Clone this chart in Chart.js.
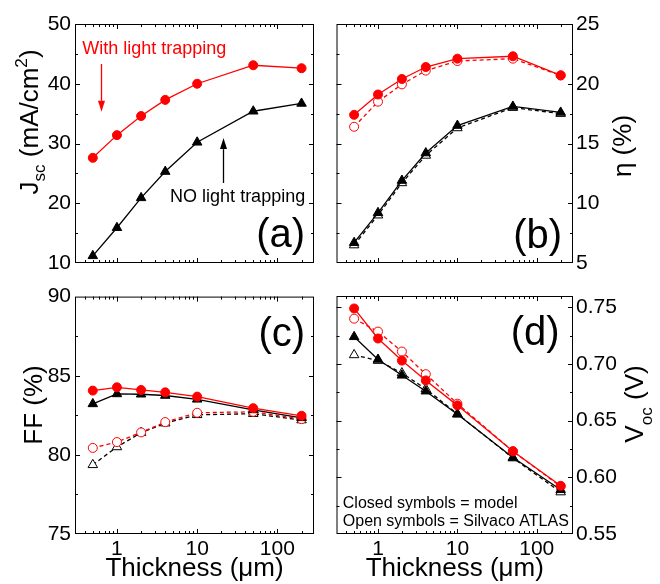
<!DOCTYPE html>
<html><head><meta charset="utf-8">
<script src="https://cdn.jsdelivr.net/npm/chart.js@4/dist/chart.umd.min.js"></script>
<style>
html,body{margin:0;padding:0;background:#fff;}
#wrap{position:relative;width:660px;height:584px;overflow:hidden;background:#fff;}
.p{position:absolute;}
</style></head><body>
<div id="wrap">
<div class="p" style="left:0;top:0;width:330px;height:280px"><canvas id="ca"></canvas></div>
<div class="p" style="left:330px;top:0;width:330px;height:280px"><canvas id="cb"></canvas></div>
<div class="p" style="left:0;top:280px;width:330px;height:304px"><canvas id="cc"></canvas></div>
<div class="p" style="left:330px;top:280px;width:330px;height:304px"><canvas id="cd"></canvas></div>
</div>
<script>
// ---------------- data ----------------
const thickness = [0.5, 1, 2, 4, 10, 50, 200];

const jscWith = [27.6, 31.4, 34.6, 37.3, 40.0, 43.1, 42.6];
const jscNo   = [11.2, 15.9, 20.9, 25.3, 30.2, 35.4, 36.7];

const effWithModel = [17.4, 19.1, 20.4, 21.4, 22.1, 22.3, 20.7];
const effWithAtlas = [16.4, 18.5, 19.95, 21.1, 21.9, 22.1, 20.7];
const effNoModel   = [6.7, 9.2, 11.9, 14.2, 16.5, 18.1, 17.6];
const effNoAtlas   = [6.5, 9.0, 11.7, 14.0, 16.3, 18.0, 17.5];

const ffWithModel = [84.06, 84.27, 84.1, 83.95, 83.68, 82.95, 82.47];
const ffNoModel   = [83.22, 83.85, 83.83, 83.75, 83.51, 82.84, 82.34];
const ffWithAtlas = [80.44, 80.81, 81.42, 82.07, 82.66, 82.72, 82.26];
const ffNoAtlas   = [79.37, 80.5, 81.4, 82.0, 82.53, 82.6, 82.2];

const vocWithModel = [0.749, 0.7225, 0.703, 0.6855, 0.6635, 0.623, 0.5925];
const vocWithAtlas = [0.740, 0.7286, 0.711, 0.691, 0.665, 0.623, 0.592];
const vocNoModel   = [0.724, 0.704, 0.690, 0.676, 0.6556, 0.6175, 0.589];
const vocNoAtlas   = [0.708, 0.703, 0.692, 0.678, 0.656, 0.617, 0.587];

const xTicks = [1, 10, 100];
const xTickLabels = ['1', '10', '100'];
const xMinorTicks = [0.4,0.5,0.6,0.7,0.8,0.9,2,3,4,5,6,7,8,9,20,30,40,50,60,70,80,90,200];
const jscTicks = [10, 20, 30, 40, 50];
const jscTickLabels = ['10', '20', '30', '40', '50'];
const effTicks = [5, 10, 15, 20, 25];
const effTickLabels = ['5', '10', '15', '20', '25'];
const ffTicks = [75, 80, 85, 90];
const ffTickLabels = ['75', '80', '85', '90'];
const vocTicks = [0.55, 0.60, 0.65, 0.70, 0.75];
const vocTickLabels = ['0.55', '0.60', '0.65', '0.70', '0.75'];

// ---------------- styling ----------------
const FAM = '"Liberation Sans", Arial, Helvetica, sans-serif';
const RED = '#ff0000';
const BLK = '#000000';
const TICK_FONT = 21;

function pts(arr){ return thickness.map((t,i)=>({x:t, y:arr[i]})); }
function ds(arr, kind, color, open){
  return {
    data: pts(arr),
    borderColor: color,
    backgroundColor: open ? '#ffffff' : color,
    pointBackgroundColor: open ? '#ffffff' : color,
    pointBorderColor: color,
    pointBorderWidth: 1,
    pointStyle: kind === 'tri' ? 'triangle' : 'circle',
    pointRadius: kind === 'tri' ? 5.5 : 4.5,
    borderWidth: 1.3,
    borderDash: open ? [4, 3] : [],
    tension: 0,
    fill: false,
    clip: false
  };
}
function mids(arr){ const m=[]; for(let i=0;i<arr.length-1;i++) m.push((arr[i]+arr[i+1])/2); return m; }

function framePlugin(yT){
  return {
    id:'frame',
    afterDraw(chart){
      const {ctx, chartArea:{left,top,right,bottom}, scales:{x,y}} = chart;
      ctx.save();
      ctx.strokeStyle = '#000'; ctx.lineWidth = 1;
      ctx.strokeRect(left+0.5, top+0.5, right-left-1, bottom-top-1);
      ctx.beginPath();
      const xt = (v,len)=>{ const p=Math.round(x.getPixelForValue(v))+0.5; ctx.moveTo(p,bottom); ctx.lineTo(p,bottom-len); ctx.moveTo(p,top); ctx.lineTo(p,top+len); };
      const yt = (v,len)=>{ const p=Math.round(y.getPixelForValue(v))+0.5; ctx.moveTo(left,p); ctx.lineTo(left+len,p); ctx.moveTo(right,p); ctx.lineTo(right-len,p); };
      xTicks.forEach(v=>xt(v,5));
      xMinorTicks.forEach(v=>xt(v,3));
      yT.forEach(v=>{ if(v>y.min && v<y.max) yt(v,5); });
      mids(yT).forEach(v=>yt(v,3));
      ctx.stroke();
      ctx.restore();
    }
  };
}

function annotPlugin(spec){
  return {
    id:'annot',
    afterDraw(chart){
      const {ctx, scales:{x,y}} = chart;
      (spec.texts||[]).forEach(t=>{
        ctx.save();
        ctx.font = `${t.size}px ${FAM}`;
        ctx.fillStyle = t.color || '#000';
        ctx.textAlign = t.align || 'left';
        ctx.textBaseline = 'alphabetic';
        ctx.fillText(t.text, x.getPixelForValue(t.x), y.getPixelForValue(t.y));
        ctx.restore();
      });
      (spec.arrows||[]).forEach(a=>{
        const px = Math.round(x.getPixelForValue(a.x))+0.5;
        const y1 = y.getPixelForValue(a.y1), y2 = y.getPixelForValue(a.y2);
        const dir = Math.sign(y2-y1);
        const hl = 11, hw = 3.5;
        ctx.save();
        ctx.strokeStyle = a.color; ctx.fillStyle = a.color; ctx.lineWidth = 1.3;
        ctx.beginPath(); ctx.moveTo(px,y1); ctx.lineTo(px,y2-dir*hl); ctx.stroke();
        ctx.beginPath(); ctx.moveTo(px,y2); ctx.lineTo(px-hw,y2-dir*hl); ctx.lineTo(px+hw,y2-dir*hl); ctx.closePath(); ctx.fill();
        ctx.restore();
      });
      if(spec.title){
        const o = spec.title, base = o.size;
        ctx.save();
        ctx.fillStyle = '#000'; ctx.textBaseline = 'alphabetic'; ctx.textAlign = 'left';
        const seg = o.parts.map(p=>{ const sz = p.s ? base*0.66 : base; ctx.font = `${sz}px ${FAM}`; return {t:p.t, s:p.s, sz, w:ctx.measureText(p.t).width}; });
        const total = seg.reduce((a,s)=>a+s.w,0);
        ctx.translate(o.x, o.y);
        ctx.rotate(-Math.PI/2);
        let u = -total/2;
        seg.forEach(s=>{
          ctx.font = `${s.sz}px ${FAM}`;
          const v = s.s==='sub' ? base*o.subShift : (s.s==='sup' ? -base*0.4 : 0);
          ctx.fillText(s.t, u, v);
          u += s.w;
        });
        ctx.restore();
      }
    }
  };
}

function makeChart(id, o){
  const el = document.getElementById(id);
  return new Chart(el, {
    type:'line',
    data:{ datasets:o.datasets },
    options:{
      responsive:true, maintainAspectRatio:false, animation:false, devicePixelRatio:1,
      layout:{ padding:o.padding },
      plugins:{ legend:{display:false}, tooltip:{enabled:false} },
      scales:{
        x:{
          type:'logarithmic', min:0.32, max:286, display:o.showX,
          afterBuildTicks:s=>{ s.ticks = xTicks.map(v=>({value:v})); },
          afterFit:s=>{ s.height = o.xH || 0; },
          grid:{display:false, drawTicks:false}, border:{display:false},
          ticks:{ display:o.showX, autoSkip:false, maxRotation:0, padding:3, color:'#000',
                  font:{family:FAM, size:TICK_FONT}, callback:(v,i)=>xTickLabels[i] },
          title:{ display:o.showX, text:'Thickness (μm)', color:'#000', padding:{top:0,bottom:0},
                  font:{family:FAM, size:26} }
        },
        y:{
          type:'linear', position:o.yPos, min:o.yMin, max:o.yMax,
          afterBuildTicks:s=>{ s.ticks = o.yTicks.map(v=>({value:v})); },
          afterFit:s=>{ s.width = o.yW; },
          grid:{display:false, drawTicks:false}, border:{display:false},
          ticks:{ padding:o.yPos==='left'?4:3, color:'#000', font:{family:FAM, size:TICK_FONT},
                  callback:(v,i)=>o.yLabels[i] }
        }
      }
    },
    plugins:[framePlugin(o.yTicks), annotPlugin(o.annot)]
  });
}

// (a) Jsc
makeChart('ca', {
  datasets:[ ds(jscWith,'circ',RED,false), ds(jscNo,'tri',BLK,false) ],
  padding:{left:0, right:16, top:24, bottom:17},
  showX:false, yPos:'left', yW:75, yMin:10, yMax:50, yTicks:jscTicks, yLabels:jscTickLabels,
  annot:{
    texts:[
      {text:'With light trapping', x:0.37, y:45.0, size:18, color:RED, align:'left'},
      {text:'NO light trapping', x:222, y:20.2, size:18, color:BLK, align:'right'},
      {text:'(a)', x:222, y:12.7, size:40, color:BLK, align:'right'}
    ],
    arrows:[
      {x:0.634, y1:43.3, y2:35.3, color:RED},
      {x:20.8, y1:23.4, y2:30.9, color:BLK}
    ],
    title:{x:37.5, y:122, size:26, subShift:0.3,
      parts:[{t:'J'},{t:'sc',s:'sub'},{t:' (mA/cm'},{t:'2',s:'sup'},{t:')'}]}
  }
});

// (b) efficiency
makeChart('cb', {
  datasets:[ ds(effWithModel,'circ',RED,false), ds(effNoModel,'tri',BLK,false),
             ds(effWithAtlas,'circ',RED,true), ds(effNoAtlas,'tri',BLK,true) ],
  padding:{left:4, right:0, top:24, bottom:17},
  showX:false, yPos:'right', yW:87, yMin:5, yMax:25, yTicks:effTicks, yLabels:effTickLabels,
  annot:{
    texts:[ {text:'(b)', x:209, y:6.23, size:40, color:BLK, align:'right'} ],
    title:{x:301, y:146, size:26, subShift:0.3, parts:[{t:'η (%)'}]}
  }
});

// (c) FF
makeChart('cc', {
  datasets:[ ds(ffWithModel,'circ',RED,false), ds(ffNoModel,'tri',BLK,false),
             ds(ffWithAtlas,'circ',RED,true), ds(ffNoAtlas,'tri',BLK,true) ],
  padding:{left:0, right:16, top:16, bottom:0},
  showX:true, xH:50, yPos:'left', yW:75, yMin:75, yMax:90, yTicks:ffTicks, yLabels:ffTickLabels,
  annot:{
    texts:[ {text:'(c)', x:222, y:86.9, size:40, color:BLK, align:'right'} ],
    title:{x:41.5, y:125, size:26, subShift:0.3, parts:[{t:'FF (%)'}]}
  }
});

// (d) Voc
makeChart('cd', {
  datasets:[ ds(vocWithModel,'circ',RED,false), ds(vocNoModel,'tri',BLK,false),
             ds(vocWithAtlas,'circ',RED,true), ds(vocNoAtlas,'tri',BLK,true) ],
  padding:{left:4, right:0, top:16, bottom:0},
  showX:true, xH:50, yPos:'right', yW:87, yMin:0.55, yMax:0.76, yTicks:vocTicks, yLabels:vocTickLabels,
  annot:{
    texts:[
      {text:'(d)', x:194, y:0.7167, size:40, color:BLK, align:'right'},
      {text:'Closed symbols = model', x:0.36, y:0.573, size:16, color:BLK, align:'left'},
      {text:'Open symbols = Silvaco ATLAS', x:0.36, y:0.5567, size:16, color:BLK, align:'left'}
    ],
    title:{x:313, y:124, size:26, subShift:0.35,
      parts:[{t:'V'},{t:'oc',s:'sub'},{t:' (V)'}]}
  }
});
</script>
</body></html>
